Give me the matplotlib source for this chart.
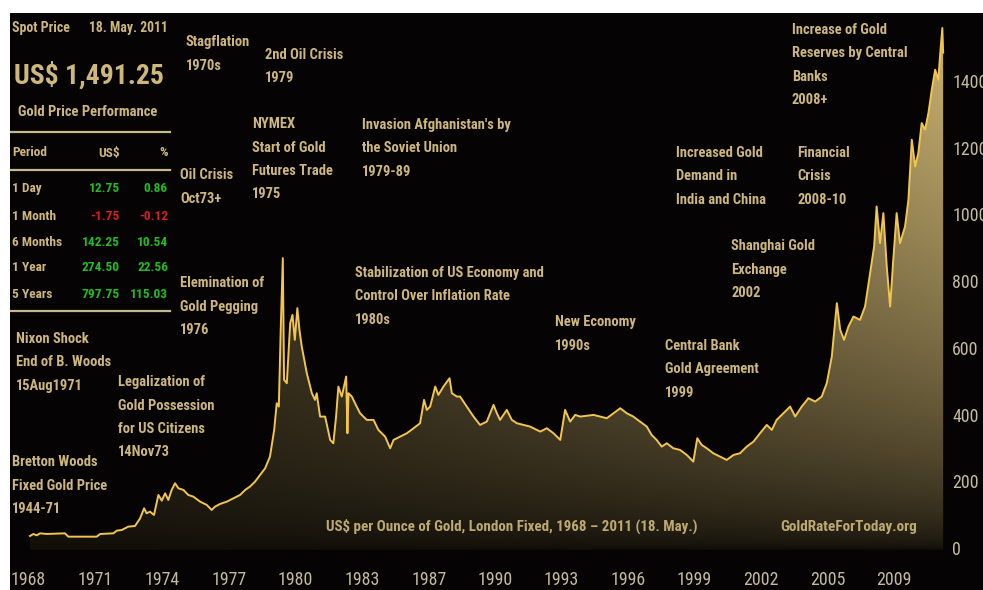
import os
import numpy as np
import matplotlib
matplotlib.use('Agg')
import matplotlib.pyplot as plt
from matplotlib import font_manager as fm
from matplotlib.font_manager import FontProperties
from matplotlib.patches import Rectangle, Polygon

# London fix, US$ per ounce (decimal year, price)
years = [1968.0, 1968.16, 1968.32, 1968.48, 1968.79, 1969.66, 1969.82, 1971.17, 1971.33, 1971.96,
         1972.12, 1972.36, 1972.67, 1972.99, 1973.23, 1973.42, 1973.54, 1973.7, 1973.89, 1974.1,
         1974.26, 1974.42, 1974.57, 1974.73, 1974.89, 1975.05, 1975.29, 1975.52, 1975.76, 1976.08,
         1976.4, 1976.63, 1976.79, 1977.03, 1977.35, 1977.66, 1977.98, 1978.22, 1978.45, 1978.69,
         1978.93, 1979.17, 1979.4, 1979.6, 1979.72, 1979.82, 1979.91, 1980.01, 1980.07, 1980.2,
         1980.36, 1980.47, 1980.58, 1980.7, 1980.8, 1980.91, 1981.15, 1981.39, 1981.54, 1981.62,
         1981.78, 1982.02, 1982.26, 1982.41, 1982.54, 1982.65, 1982.81, 1983.02, 1983.08, 1983.13,
         1983.29, 1983.44, 1983.68, 1984.0, 1984.32, 1984.55, 1984.87, 1985.11, 1985.27, 1985.58,
         1985.9, 1986.22, 1986.53, 1986.72, 1986.85, 1987.01, 1987.25, 1987.4, 1987.64, 1987.93,
         1988.04, 1988.28, 1988.43, 1988.75, 1989.07, 1989.38, 1989.7, 1990.02, 1990.18, 1990.33,
         1990.65, 1990.89, 1991.13, 1991.44, 1991.76, 1992.24, 1992.55, 1992.87, 1993.19, 1993.42,
         1993.66, 1993.9, 1994.14, 1994.77, 1995.4, 1996.04, 1996.35, 1996.66, 1996.98, 1997.3,
         1997.53, 1997.77, 1998.01, 1998.25, 1998.56, 1998.88, 1999.2, 1999.51, 1999.7, 1999.91,
         2000.15, 2000.46, 2000.78, 2001.1, 2001.42, 2001.73, 2002.05, 2002.37, 2002.68, 2003.0,
         2003.24, 2003.47, 2003.79, 2004.11, 2004.35, 2004.66, 2004.98, 2005.3, 2005.61, 2005.85,
         2006.09, 2006.33, 2006.49, 2006.67, 2006.88, 2007.12, 2007.43, 2007.67, 2007.91, 2008.1,
         2008.22, 2008.38, 2008.54, 2008.7, 2008.86, 2009.01, 2009.17, 2009.33, 2009.57, 2009.73,
         2009.89, 2010.05, 2010.2, 2010.36, 2010.52, 2010.68, 2010.84, 2011.0, 2011.15, 2011.23,
         2011.34, 2011.38]
prices = [42, 48, 44, 50, 48, 50, 40, 40, 48, 50,
          58, 60, 70, 72, 95, 125, 110, 115, 105, 165,
          148, 170, 150, 180, 200, 185, 180, 165, 160, 145,
          135, 120, 130, 138, 145, 155, 165, 180, 190, 205,
          225, 245, 280, 360, 440, 430, 660, 875, 510, 500,
          680, 705, 630, 725, 660, 610, 530, 470, 450, 470,
          400, 400, 330, 320, 400, 490, 460, 520, 350, 470,
          460, 440, 410, 390, 390, 360, 340, 305, 330, 340,
          350, 365, 380, 450, 420, 430, 490, 465, 490, 515,
          470, 460, 460, 430, 400, 375, 385, 435, 410, 390,
          420, 390, 380, 375, 370, 355, 365, 350, 330, 420,
          385, 405, 400, 405, 395, 425, 410, 400, 385, 370,
          345, 330, 310, 320, 305, 300, 285, 265, 335, 315,
          305, 290, 280, 270, 285, 290, 310, 325, 350, 375,
          360, 390, 410, 430, 400, 430, 455, 445, 460, 500,
          580, 740, 660, 630, 670, 700, 690, 730, 830, 910,
          1030, 920, 1010, 850, 730, 870, 1010, 920, 970, 1050,
          1230, 1150, 1190, 1280, 1260, 1310, 1380, 1440, 1410, 1480,
          1565, 1491]

xtick_pos = [1967.9, 1971.1, 1974.3, 1977.45, 1980.6, 1983.8, 1986.95,
             1990.1, 1993.25, 1996.4, 1999.55, 2002.7, 2005.9, 2009.05]
xtick_labels = ['1968', '1971', '1974', '1977', '1980', '1983', '1987',
                '1990', '1993', '1996', '1999', '2002', '2005', '2009']
ytick_pos = [0, 200, 400, 600, 800, 1000, 1200, 1400]

spot_date = '18. May. 2011'
spot_price = 'US$ 1,491.25'
periods = ['1 Day', '1 Month', '6 Months', '1 Year', '5 Years']
change_usd = [12.75, -1.75, 142.25, 274.50, 797.75]
change_pct = [0.86, -0.12, 10.54, 22.56, 115.03]

events = [
    (186, 35, 'Stagflation\n1970s'),
    (265, 48, '2nd Oil Crisis\n1979'),
    (252, 117, 'NYMEX\nStart of Gold\nFutures Trade\n1975'),
    (180, 168, 'Oil Crisis\nOct73+'),
    (362, 118, "Invasion Afghanistan's by\nthe Soviet Union\n1979-89"),
    (180, 276, 'Elemination of\nGold Pegging\n1976'),
    (355, 266, 'Stabilization of US Economy and\nControl Over Inflation Rate\n1980s'),
    (555, 315, 'New Economy\n1990s'),
    (665, 339, 'Central Bank\nGold Agreement\n1999'),
    (16, 332, 'Nixon Shock\nEnd of B. Woods\n15Aug1971'),
    (118, 375, 'Legalization of\nGold Possession\nfor US Citizens\n14Nov73'),
    (12, 455, 'Bretton Woods\nFixed Gold Price\n1944-71'),
    (676, 146, 'Increased Gold\nDemand in\nIndia and China'),
    (797, 146, 'Financial\nCrisis\n2008-10'),
    (792, 23, 'Increase of Gold\nReserves by Central\nBanks\n2008+'),
    (731, 239, 'Shanghai Gold\nExchange\n2002'),
]

W, H = 983, 590
TXT = '#cdb77d'
TICK = '#c4ba9c'


def find_font(names, fallback_bold):
    files = {os.path.basename(f.fname).lower(): f.fname for f in fm.fontManager.ttflist}
    for n in names:
        for base, path in files.items():
            if base.startswith(n):
                return path
    return fm.findfont(FontProperties(family='DejaVu Sans',
                                      weight='bold' if fallback_bold else 'normal'))


BOLD = find_font(['notosans-extracondensedbold', 'liberationsansnarrow-bold',
                  'robotocondensed-bold', 'notosans-condensedbold',
                  'dejavusanscondensed-bold', 'opensans-condbold'], True)
REG = find_font(['notosans-extracondensed.', 'liberationsansnarrow-regular',
                 'robotocondensed-regular', 'notosans-condensed.',
                 'dejavusanscondensed.'], False)

fig = plt.figure(figsize=(W / 100, H / 100), dpi=100, facecolor='white')
fig.patches.append(Rectangle((10 / W, 0), 1, (H - 13) / H, transform=fig.transFigure,
                             facecolor='#050303', edgecolor='none', zorder=-5))
renderer = fig.canvas.get_renderer()


def fit_size(s, width_px, path):
    t = fig.text(0, 0, s, fontproperties=FontProperties(fname=path, size=10))
    w = t.get_window_extent(renderer).width
    t.remove()
    return 10 * width_px / w


def put(px, py, s, size, path=BOLD, **kw):
    kw.setdefault('color', TXT)
    kw.setdefault('va', 'center')
    return fig.text(px / W, 1 - py / H, s, fontproperties=FontProperties(fname=path, size=size), **kw)


def hline(py, x0=11, x1=170):
    fig.add_artist(plt.Line2D([x0 / W, x1 / W], [1 - py / H, 1 - py / H],
                              color='#c8b890', lw=1.6, transform=fig.transFigure))


ax = fig.add_axes([10 / W, (H - 565) / H, (948 - 10) / W, (565 - 13) / H])
ax.set_facecolor('none')
for s in ax.spines.values():
    s.set_visible(False)
ax.set_xlim(1967.05, 2011.61)
ax.set_ylim(-45, 1610)

# gradient fill under the curve, dark brown at lower left, pale gold at upper right
gx = np.linspace(1967, 2012, 400)
gy = np.linspace(0, 1610, 300)
X, Y = np.meshgrid(gx, gy)
xf = np.clip((X - 1968) / 43.4, 0, 1)
yf = np.clip(Y / 1550, 0, 1)
t = 0.04 + 0.96 * yf ** 0.6 * (0.25 + 0.75 * xf ** 1.3)
dark = np.array([8, 6, 3]) / 255
light = np.array([200, 176, 112]) / 255
img = dark + (light - dark) * np.clip(t, 0, 1)[..., None]
im = ax.imshow(img, extent=[gx[0], gx[-1], gy[0], gy[-1]], origin='lower',
               aspect='auto', zorder=1, interpolation='bilinear')
verts = [(years[0], 0)] + list(zip(years, prices)) + [(years[-1], 0)]
clip = Polygon(verts, closed=True, facecolor='none', edgecolor='none')
ax.add_patch(clip)
im.set_clip_path(clip)
ax.plot(years, prices, color='#f2c64c', lw=1.4, zorder=3)

tick_size = fit_size('1968', 35, REG)
ax.set_xticks(xtick_pos)
ax.set_xticklabels(xtick_labels, fontproperties=FontProperties(fname=REG, size=tick_size),
                   color=TICK)
ax.set_yticks(ytick_pos)
ax.set_yticklabels([str(v) for v in ytick_pos],
                   fontproperties=FontProperties(fname=REG, size=tick_size), color=TICK)
ax.yaxis.tick_right()
ax.tick_params(axis='x', length=0, pad=4)
ax.tick_params(axis='y', length=0, pad=3)
for lab in ax.get_yticklabels():
    lab.set_horizontalalignment('left')
    lab.set_verticalalignment('center')

# price panel at top left
put(12, 28, 'Spot Price', fit_size('Spot Price', 58, BOLD))
put(168, 28, spot_date, fit_size(spot_date, 79, BOLD), ha='right')
put(14, 75, spot_price, fit_size(spot_price, 150, BOLD))
put(88, 112, 'Gold Price Performance', fit_size('Gold Price Performance', 140, BOLD), ha='center')
hline(132)
row_size = fit_size('6 Months', 50, BOLD)
put(12, 153, 'Period', row_size)
put(120, 153, 'US$', row_size, ha='right')
put(168, 153, '%', row_size, ha='right')
hline(170)
row_y = [189, 216, 242, 268, 294]
for ry, p, u, c in zip(row_y, periods, change_usd, change_pct):
    col = '#22bb22' if u >= 0 else '#d42020'
    put(12, ry, p, row_size)
    put(120, ry, f'{u:.2f}', row_size, ha='right', color=col)
    put(168, ry, f'{c:.2f}', row_size, ha='right', color=col)
hline(311)

# event notes, one text per line with a fixed pitch
note_size = fit_size('Stabilization of US Economy and', 188, BOLD)
for ex, ey, label in events:
    for i, line in enumerate(label.split('\n')):
        put(ex, ey + 7 + i * 23.5, line, note_size)

title = 'US$ per Ounce of Gold, London Fixed, 1968 \u2013 2011 (18. May.)'
put(326, 526, title, fit_size(title, 372, BOLD), color='#bfa972')
put(780, 527, 'GoldRateForToday.org', fit_size('GoldRateForToday.org', 137, BOLD),
    color='#bfa972')

fig.savefig('out.png', dpi=100, facecolor=fig.get_facecolor())
